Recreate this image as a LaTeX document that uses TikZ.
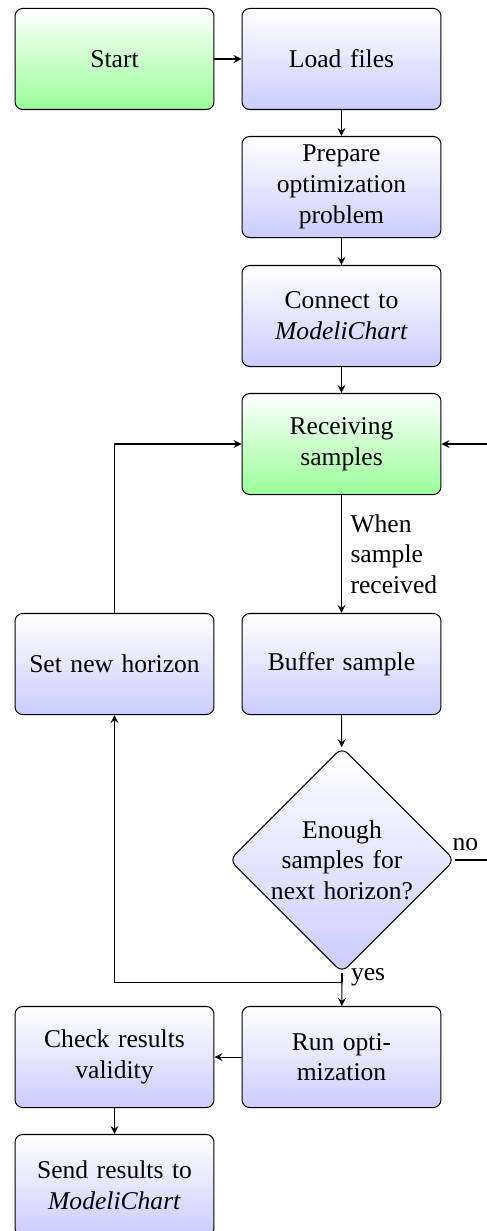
\documentclass[tikz,border=0pt]{standalone}
\usepackage{fontspec}
\setmainfont{Liberation Serif}
\usetikzlibrary{shapes.geometric,arrows}
\begin{document}
\begin{tikzpicture}[x=0.391pt,y=-0.391pt,>=stealth,
  proc/.style={draw,rounded corners=3pt,text width=2.5cm,align=center,
    minimum height=39.5pt,inner sep=3.33pt,top color=white,bottom color=blue!20},
  hot/.style={proc,bottom color=green!40},
  decide/.style={diamond,draw,rounded corners=3pt,aspect=1,text width=2cm,
    align=center,inner sep=0pt,top color=white,bottom color=blue!20}]
\useasboundingbox (0,0) rectangle (486,1231);

% process steps
\node[hot]    (start)  at (114.5,59)   {Start};
\node[proc]   (load)   at (341.5,59)   {Load files};
\node[proc]   (prep)   at (341.5,187)  {Prepare\\optimization\\problem};
\node[proc]   (conn)   at (341.5,316)  {Connect to\\\textit{ModeliChart}};
\node[hot]    (recv)   at (341.5,444)  {Receiving\\samples};
\node[proc]   (buf)    at (341.5,664)  {Buffer sample};
\node[proc]   (hor)    at (114.5,664)  {Set new horizon};
\node[decide] (enough) at (342,860)    {Enough\\samples for\\next horizon?};
\node[proc]   (run)    at (341.5,1057) {Run opti-\\mization};
\node[proc]   (check)  at (114.5,1057) {Check results\\validity};
\node[proc]   (send)   at (114.5,1185) {Send results to\\\textit{ModeliChart}};

% routing points
\coordinate (split)  at (342,982);
\coordinate (noturn) at (520,860);

% connectors
\draw[->] (start) -- (load);
\draw[->] (load) -- (prep);
\draw[->] (prep) -- (conn);
\draw[->] (conn) -- (recv);
\draw[->] (recv) -- node[right,align=left] {When\\sample\\received} (buf);
\draw[->] (buf) -- (enough);
\draw (enough.south) -- node[right] {yes} (split);
\draw[->] (split) -- (run);
\draw[->] (split) -| (hor);
\draw[->] (hor) |- (recv);
\draw[->] (enough.east) -- node[above,pos=0.16] {no} (noturn) |- (recv.east);
\draw[->] (run) -- (check);
\draw[->] (check) -- (send);
\end{tikzpicture}
\end{document}
